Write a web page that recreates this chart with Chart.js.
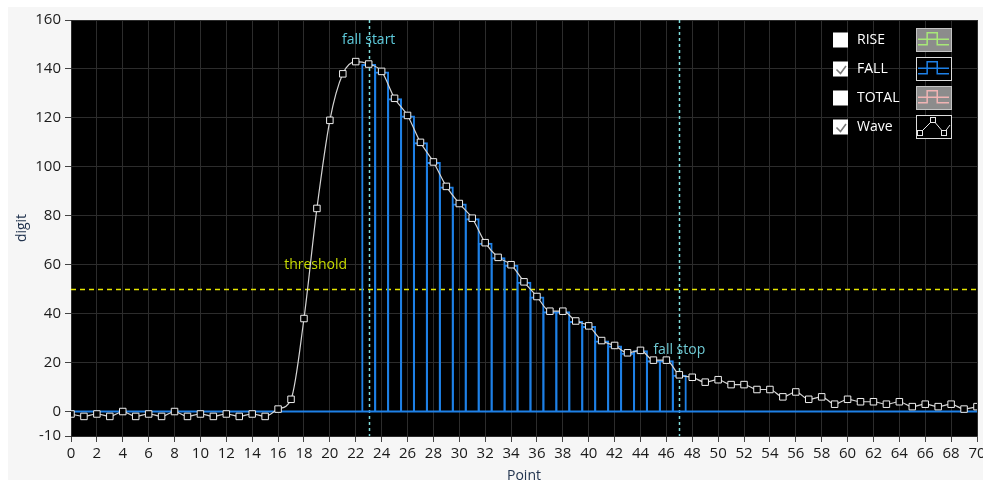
<!DOCTYPE html>
<html>
<head>
<meta charset="utf-8">
<script src="https://cdn.jsdelivr.net/npm/chart.js@4.4.0/dist/chart.umd.min.js"></script>
<style>
  html, body { margin: 0; padding: 0; background: #fff; }
  canvas { display: block; }
</style>
</head>
<body>
<canvas id="waveChart" width="983" height="480"></canvas>
<script>
// --- data ---
const waveValues = [
  -1, -2, -1, -2, 0, -2, -1, -2, 0, -2, -1, -2, -1, -2, -1, -2, 1, 5,
  38, 83, 119, 138, 143, 142, 139, 128, 121, 110,
  102, 92, 85, 79, 69, 63, 60, 53, 47, 41,
  41, 37, 35, 29, 27, 24, 25, 21, 21, 15,
  14, 12, 13, 11, 11, 9, 9, 6, 8, 5,
  6, 3, 5, 4, 4, 3, 4, 2, 3, 2,
  3, 1, 2
];
const fallPoints = [23, 24, 25, 26, 27, 28, 29, 30, 31, 32, 33, 34, 35, 36, 37, 38, 39, 40, 41, 42, 43, 44, 45, 46, 47];
const fallValues = [142, 139, 128, 121, 110, 102, 92, 85, 79, 69, 63, 60, 53, 47, 41, 41, 37, 35, 29, 27, 24, 25, 21, 21, 15];
const yTicks = [-10, 0, 20, 40, 60, 80, 100, 120, 140, 160];
const fallStart = 23;
const fallStop = 47;
const threshold = 50;
const legendNames = ['RISE', 'FALL', 'TOTAL', 'Wave'];
const legendChecked = [false, true, false, true];

const BLUE = '#1e80e6';
const tickFont = { family: "'Liberation Sans Narrow', 'Open Sans', sans-serif", size: 15 };

// --- background, plot area black ---
const backgroundPlugin = {
  id: 'panelBackground',
  beforeDraw(chart) {
    const { ctx, width, height, chartArea } = chart;
    ctx.save();
    ctx.fillStyle = '#ffffff';
    ctx.fillRect(0, 0, width, height);
    ctx.fillStyle = '#f6f6f6';
    ctx.fillRect(8, 7, width - 8, height - 7);
    ctx.fillStyle = '#000000';
    ctx.fillRect(chartArea.left, chartArea.top, chartArea.right - chartArea.left, chartArea.bottom - chartArea.top);
    ctx.restore();
  }
};

// --- threshold / fall start / fall stop markers ---
const markerPlugin = {
  id: 'markers',
  beforeDatasetsDraw(chart) {
    const { ctx, chartArea, scales: { x, y } } = chart;
    ctx.save();
    ctx.beginPath();
    ctx.rect(chartArea.left, chartArea.top, chartArea.right - chartArea.left, chartArea.bottom - chartArea.top);
    ctx.clip();

    // threshold line
    const ty = Math.round(y.getPixelForValue(threshold)) + 0.5;
    ctx.strokeStyle = '#e6e600';
    ctx.lineWidth = 1.5;
    ctx.setLineDash([5, 4]);
    ctx.beginPath();
    ctx.moveTo(chartArea.left, ty);
    ctx.lineTo(chartArea.right, ty);
    ctx.stroke();

    // fall start / stop lines
    ctx.strokeStyle = '#7fdede';
    ctx.setLineDash([3, 3]);
    [fallStart, fallStop].forEach(v => {
      const px = Math.round(x.getPixelForValue(v)) + 0.5;
      ctx.beginPath();
      ctx.moveTo(px, chartArea.top);
      ctx.lineTo(px, chartArea.bottom);
      ctx.stroke();
    });
    ctx.setLineDash([]);

    ctx.font = "14px 'Open Sans', sans-serif";
    ctx.textAlign = 'center';
    ctx.textBaseline = 'middle';
    ctx.fillStyle = '#c8dc00';
    ctx.fillText('threshold', x.getPixelForValue(18.9), y.getPixelForValue(60));
    ctx.fillStyle = '#5ecbdc';
    ctx.fillText('fall start', x.getPixelForValue(fallStart), y.getPixelForValue(152));
    ctx.fillStyle = '#6fcad4';
    ctx.fillText('fall stop', x.getPixelForValue(fallStop), y.getPixelForValue(25));
    ctx.restore();
  }
};

// --- checkbox legend in the top right ---
function drawPulse(ctx, bx, by, w, h, color) {
  const l = bx + 2, r = bx + w - 3;
  const p1 = bx + w * 0.31, p2 = bx + w * 0.59;
  const top = by + h * 0.2, mid = by + h * 0.47, low = by + h * 0.7;
  ctx.strokeStyle = color;
  ctx.lineWidth = 1.5;
  ctx.beginPath();
  ctx.moveTo(l, mid); ctx.lineTo(r, mid);
  ctx.moveTo(l, low); ctx.lineTo(p1, low); ctx.lineTo(p1, top); ctx.lineTo(p2, top); ctx.lineTo(p2, low); ctx.lineTo(r, low);
  ctx.stroke();
}

const legendPlugin = {
  id: 'checkLegend',
  afterDraw(chart) {
    const { ctx } = chart;
    ctx.save();
    legendNames.forEach((name, i) => {
      const cy = 40 + i * 29;
      // checkbox
      ctx.fillStyle = '#ffffff';
      ctx.fillRect(833, cy - 7.5, 15, 15);
      if (legendChecked[i]) {
        ctx.strokeStyle = '#7a7a7a';
        ctx.lineWidth = 1.6;
        ctx.beginPath();
        ctx.moveTo(836.5, cy + 0.5);
        ctx.lineTo(840.5, cy + 4.5);
        ctx.lineTo(846, cy - 3);
        ctx.stroke();
      }
      // label
      ctx.fillStyle = '#ffffff';
      ctx.font = "14px 'Open Sans', sans-serif";
      ctx.textAlign = 'left';
      ctx.textBaseline = 'middle';
      ctx.fillText(name, 857, cy);
      // icon
      const bx = 916, by = cy - 12, bw = 36, bh = 24;
      const greyed = !legendChecked[i];
      ctx.fillStyle = greyed ? '#8c8c8c' : '#000000';
      ctx.fillRect(bx, by, bw, bh);
      ctx.strokeStyle = greyed ? '#c4c4c4' : '#dcdcdc';
      ctx.lineWidth = 1;
      ctx.strokeRect(bx + 0.5, by + 0.5, bw - 1, bh - 1);
      if (name === 'RISE') drawPulse(ctx, bx, by, bw, bh, '#a8e878');
      if (name === 'FALL') drawPulse(ctx, bx, by, bw, bh, BLUE);
      if (name === 'TOTAL') drawPulse(ctx, bx, by, bw, bh, '#f0b4b4');
      if (name === 'Wave') {
        const pts = [[bx + 1, by + 21], [bx + 4, by + 18], [bx + 17, by + 5], [bx + 28, by + 18], [bx + 34, by + 10]];
        ctx.strokeStyle = '#e8e8e8';
        ctx.beginPath();
        pts.forEach((p, k) => k ? ctx.lineTo(p[0], p[1]) : ctx.moveTo(p[0], p[1]));
        ctx.stroke();
        [pts[1], pts[2], pts[3]].forEach(p => {
          ctx.fillStyle = '#000';
          ctx.fillRect(p[0] - 3, p[1] - 3, 6, 6);
          ctx.strokeRect(p[0] - 2.5, p[1] - 2.5, 5, 5);
        });
      }
    });
    ctx.restore();
  }
};

const ctx = document.getElementById('waveChart').getContext('2d');
new Chart(ctx, {
  type: 'line',
  data: {
    datasets: [
      {
        type: 'line',
        label: 'Wave',
        data: waveValues.map((v, i) => ({ x: i, y: v })),
        borderColor: '#d4d4d4',
        borderWidth: 1.2,
        cubicInterpolationMode: 'monotone',
        pointStyle: 'rect',
        pointRadius: 4.6,
        pointBackgroundColor: '#000000',
        pointBorderColor: '#eeeeee',
        pointBorderWidth: 1,
        order: 0
      },
      {
        type: 'line',
        label: 'FALL base',
        data: [{ x: 0, y: 0 }, { x: waveValues.length - 1, y: 0 }],
        borderColor: BLUE,
        borderWidth: 2,
        pointRadius: 0,
        order: 1
      },
      {
        type: 'bar',
        label: 'FALL',
        data: fallPoints.map((p, i) => ({ x: p, y: fallValues[i] })),
        backgroundColor: 'rgba(0,0,0,0)',
        borderColor: BLUE,
        borderWidth: 2,
        barPercentage: 1.15,
        categoryPercentage: 1,
        order: 2
      }
    ]
  },
  options: {
    responsive: false,
    animation: false,
    devicePixelRatio: 1,
    layout: { padding: { left: 8, top: 20, right: 6, bottom: 0 } },
    plugins: { legend: { display: false }, tooltip: { enabled: false } },
    scales: {
      x: {
        type: 'linear',
        min: 0,
        max: 70,
        offset: false,
        grid: { color: '#2c2c2c', tickColor: '#444', tickLength: 6, offset: false },
        border: { display: false },
        ticks: { stepSize: 2, autoSkip: false, maxRotation: 0, color: '#1a1a1a', font: tickFont, padding: 3 },
        title: { display: true, text: 'Point', color: '#22344f', font: { family: "'Open Sans', sans-serif", size: 14 }, padding: { top: 0, bottom: -4 } },
        afterFit(scale) {
          scale.height = 44;
          scale.paddingLeft = 0;
          scale.paddingRight = 0;
        }
      },
      y: {
        type: 'linear',
        min: -10,
        max: 160,
        grid: { color: '#2c2c2c', tickColor: '#444', tickLength: 6 },
        border: { display: false },
        ticks: { color: '#1a1a1a', font: tickFont, padding: 4 },
        afterBuildTicks(scale) {
          scale.ticks = yTicks.map(v => ({ value: v }));
        },
        title: { display: true, text: 'digit', color: '#22344f', font: { family: "'Open Sans', sans-serif", size: 14 }, padding: { top: 6, bottom: 0 } },
        afterFit(scale) {
          scale.width = 63;
          scale.paddingTop = 0;
          scale.paddingBottom = 0;
        }
      }
    }
  },
  plugins: [backgroundPlugin, markerPlugin, legendPlugin]
});
</script>
</body>
</html>
